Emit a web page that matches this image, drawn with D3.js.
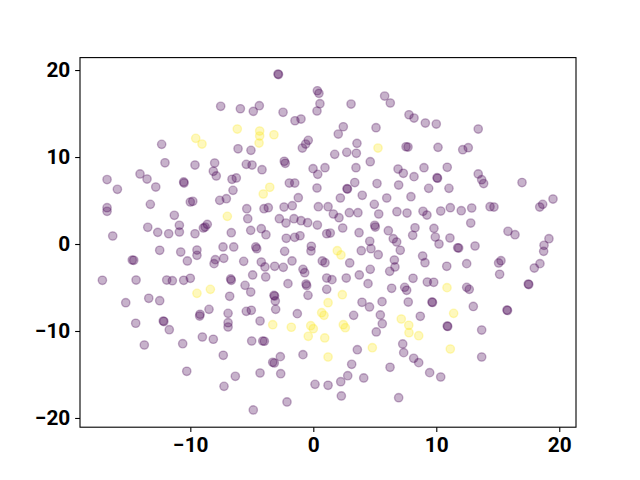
<!DOCTYPE html>
<html lang="en">
<head>
  <meta charset="UTF-8">
  <title>Scatter</title>
  <script src="https://d3js.org/d3.v7.min.js"></script>
  <style>
    body { margin: 0; background: #fff; }
    svg { display: block; }
    .tick text { font-family: Roboto, sans-serif; font-weight: bold; font-size: 20.8px; fill: #000; }
  </style>
</head>
<body>
  <div id="chart"></div>
  <script>
    // point coordinates and class labels (0 = purple, 1 = yellow)
    const xs = [
      -12.33, -12.06, -9.62, -14.09, -13.52, -16.77, -10.54, -10.51, -9.56, -9.05,
      -2.87, -2.83, 0.33, 0.46, 0.54, 0.30, -7.53, -5.93, -4.88, -4.39,
      -2.46, -1.49, -1.00, -6.18, -4.36, -4.36, -4.41, -3.20, -6.12, -5.07,
      -0.41, -0.62, -0.89, -8.02, -8.13, -7.89, -5.45, -4.98, -4.17, -2.36,
      -2.28, -0.02, 0.95, 0.36, -6.61, -6.26, -1.95, -1.51, 3.07, 5.80,
      6.26, 7.78, 8.19, 9.11, 10.00, 2.44, 2.03, 5.10, 3.55, 5.26,
      7.54, 7.70, 10.14, 1.74, 2.72, 3.50, 4.63, 3.47, 6.89, 7.32,
      9.00, 10.89, 8.19, 10.06, 10.10, 3.37, 5.18, 6.94, 13.41, 12.15,
      12.60, 13.41, 13.69, 13.85, 16.97,
      -15.93, -12.81, -16.77, -16.77, -13.25, -10.00, -9.80, -11.30, -13.46, -12.65,
      -11.76, -10.89, -10.89, -9.62, -8.94, -16.31, -12.49, -10.78, -10.24, -9.46,
      -9.46, -14.72, -14.60, -17.15, -14.41, -11.92, -11.46, -10.54, -10.00, -9.46,
      -15.25, -13.38, -12.49, -6.53, -3.54, -4.07, 0.30, -1.22, -7.61, -7.07,
      -6.99, -5.41, -4.01, -3.66, -2.38, -1.71, 0.41, 1.20, -5.33, -2.76,
      -2.22, -1.57, -1.00, -0.46, 0.33, -8.62, -8.80, -6.67, -5.09, -4.23,
      -3.85, -2.20, -1.51, -1.08, 1.09, -7.34, -6.47, -4.68, -4.60, -2.33,
      -0.16, -0.19, -7.97, -8.07, -7.28, -5.66, -4.23, -3.93, -3.14, -2.44,
      -1.73, -0.84, -0.70, 0.73, 0.95, -4.93, -3.87, -6.72, -6.67, 1.09,
      -0.54, -0.59, -2.06, -5.55, -5.09, 1.09, -8.37, -6.80, -3.20, -3.09,
      -3.15, -0.43, 1.20, 2.74, 2.78, 9.38, 11.03, 2.20, 3.98, 5.97,
      7.94, 1.63, 2.09, 2.93, 3.63, 5.32, 4.96, 6.80, 7.62, 8.92,
      9.24, 10.36, 11.14, 4.99, 5.04, 2.39, 1.38, 3.72, 6.10, 8.27,
      8.08, 9.81, 9.92, 10.22, 11.11, 4.59, 6.50, 6.78, 7.07, 3.90,
      4.69, 5.28, 1.95, 2.25, 8.89, 9.08, 2.96, 6.59, 6.64, 6.21,
      10.85, 4.63, 3.74, 2.68, 1.52, 8.11, 4.45, 9.27, 9.79, 10.87,
      6.37, 7.43, 7.59, 2.36, 3.96, 5.59, 7.72, 9.65, 9.69, 12.03,
      12.88, 14.37, 14.69, 18.41, 18.65, 19.49, 12.80, 11.74, 11.82, 13.15,
      15.83, 16.40, 19.16, 18.76, 18.73, 12.47, 15.07, 15.26, 15.15, 17.97,
      18.43, 17.48, 17.52, 12.47, 12.68, 13.01,
      -14.44, -12.20, -12.15, -11.71, -9.21, -9.24, -13.74, -10.62, -9.02, -10.29,
      -8.48, -6.93, -5.45, -5.04, -3.06, -1.30, 0.68, 0.87, -6.93, -6.93,
      -4.33, -3.30, -1.79, -0.21, 0.00, -0.41, 0.93, -8.13, -5.01, -4.11,
      -3.98, -7.32, -2.68, -3.30, -3.17, -0.84, 1.20, -6.34, -4.33, -2.65,
      -7.26, 0.14, 1.20, -2.14, -4.88, 3.28, 4.57, 5.45, 5.61, 2.44,
      2.60, 5.12, 7.15, 7.76, 7.78, 8.57, 8.70, 10.89, 10.93, 3.58,
      4.80, 7.27, 7.35, 8.16, 8.57, 11.14, 3.12, 2.80, 2.23, 4.10,
      6.24, 9.46, 10.36, 2.28, 6.94, 11.41, 15.75, 15.79, 13.69, 13.69
    ];
    const ys = [
      11.46, 9.34, 9.08, 8.05, 7.47, 7.41, 7.13, 7.01, 12.15, 11.49,
      19.54, 19.48, 17.62, 17.32, 16.13, 15.29, 15.83, 15.55, 15.25, 15.90,
      15.14, 14.17, 14.37, 13.22, 12.99, 12.41, 11.61, 12.56, 10.95, 10.77,
      11.92, 11.49, 11.03, 9.31, 8.36, 7.82, 9.16, 9.08, 8.54, 9.51,
      9.28, 8.66, 8.77, 8.01, 7.44, 7.59, 7.01, 7.01, 16.09, 17.01,
      16.21, 14.86, 14.48, 13.91, 13.79, 13.48, 12.64, 13.37, 11.57, 11.03,
      11.18, 11.15, 11.11, 10.31, 10.54, 10.43, 9.46, 8.77, 8.62, 8.13,
      8.77, 8.82, 7.74, 7.62, 7.56, 7.07, 6.95, 6.78, 13.22, 10.84,
      11.07, 8.05, 7.39, 6.95, 7.07,
      6.29, 6.55, 4.17, 3.76, 4.56, 4.83, 4.91, 3.30, 1.92, 1.34,
      1.18, 2.15, 1.38, 1.18, 1.84, 0.92, -0.72, -0.92, -1.95, -0.69,
      -1.30, -1.84, -1.87, -4.17, -4.14, -4.14, -4.22, -4.17, -3.94, -5.67,
      -6.75, -6.24, -6.52, 6.17, 6.52, 5.75, 6.44, 5.32, 5.02, 5.21,
      3.18, 4.06, 4.06, 4.17, 4.25, 4.40, 4.29, 4.29, 2.91, 2.91,
      2.41, 2.91, 2.68, 2.45, 2.18, 2.26, 1.95, 1.30, 1.57, 1.76,
      1.07, 0.66, 0.77, 0.95, 1.18, -0.34, -0.34, -0.34, -0.54, -0.84,
      -0.26, -0.80, -1.80, -2.26, -1.64, -1.99, -2.07, -2.64, -2.56, -2.68,
      -1.95, -2.91, -3.30, -1.95, -2.15, -3.56, -3.79, -4.02, -4.17, -3.91,
      -4.79, -4.60, -4.56, -4.75, -5.52, -5.21, -5.21, -6.01, -5.90, -6.55,
      -5.98, -5.90, -6.75, 6.36, 6.32, 6.40, 6.40, 5.29, 5.60, 5.29,
      5.44, 3.45, 3.02, 3.60, 3.60, 3.45, 4.56, 3.71, 3.56, 3.76,
      3.33, 3.79, 4.17, 2.15, 1.95, 1.84, 1.26, 1.30, 1.53, 1.87,
      1.00, 1.80, 0.80, 0.00, 0.69, 0.31, 0.61, 0.23, -0.72, -0.77,
      -0.54, -1.23, -0.77, -1.26, -1.38, -2.15, -2.18, -1.84, -2.64, -3.14,
      -2.56, -2.91, -3.56, -3.91, -4.10, -3.94, -4.56, -4.37, -4.40, -5.02,
      -5.09, -4.98, -5.32, -5.83, -6.70, -6.63, -6.67, -6.67, -6.72, 3.83,
      4.14, 4.29, 4.25, 4.25, 4.56, 5.17, 2.41, -0.43, -0.46, -0.23,
      1.46, 1.07, 0.61, -0.15, -0.84, -2.26, -2.18, -1.92, -3.48, -2.76,
      -2.26, -4.60, -4.66, -4.98, -5.21, -7.18,
      -9.11, -8.85, -8.91, -9.85, -8.08, -8.28, -11.61, -11.46, -10.69, -14.63,
      -7.51, -7.97, -7.74, -7.62, -7.51, -8.01, -7.90, -8.20, -9.05, -9.54,
      -8.85, -9.28, -9.57, -9.39, -9.74, -10.61, -10.80, -10.95, -11.15, -11.15,
      -11.18, -12.79, -12.95, -13.60, -13.68, -12.72, -12.99, -15.21, -14.83, -14.91,
      -16.36, -16.13, -16.24, -18.16, -19.08, -8.20, -7.24, -8.16, -9.16, -9.28,
      -9.62, -10.11, -8.62, -9.34, -10.20, -10.54, -8.31, -9.43, -9.48, -12.15,
      -11.92, -11.49, -12.49, -13.14, -13.64, -12.07, -13.83, -15.14, -15.83, -15.40,
      -14.17, -14.79, -15.29, -17.47, -17.67, -7.97, -7.59, -7.64, -9.89, -12.99
    ];
    const labels = [
      0, 0, 0, 0, 0, 0, 0, 0, 1, 1,
      0, 0, 0, 0, 0, 0, 0, 0, 0, 0,
      0, 0, 0, 1, 1, 1, 1, 1, 0, 0,
      0, 0, 0, 0, 0, 0, 0, 0, 0, 0,
      0, 0, 0, 0, 0, 0, 0, 0, 0, 0,
      0, 0, 0, 0, 0, 0, 0, 0, 0, 1,
      0, 0, 0, 0, 0, 0, 0, 0, 0, 0,
      0, 0, 0, 0, 0, 0, 0, 0, 0, 0,
      0, 0, 0, 0, 0,
      0, 0, 0, 0, 0, 0, 0, 0, 0, 0,
      0, 0, 0, 0, 0, 0, 0, 0, 0, 0,
      0, 0, 0, 0, 0, 0, 0, 0, 0, 1,
      0, 0, 0, 0, 1, 1, 0, 0, 0, 0,
      1, 0, 0, 0, 0, 0, 0, 0, 0, 0,
      0, 0, 0, 0, 0, 0, 0, 0, 0, 0,
      0, 0, 0, 0, 0, 0, 0, 0, 0, 0,
      0, 0, 0, 0, 0, 0, 0, 0, 0, 0,
      0, 0, 0, 0, 0, 0, 0, 0, 0, 0,
      0, 0, 0, 0, 0, 0, 1, 0, 0, 0,
      0, 0, 1, 0, 0, 0, 0, 0, 0, 0,
      0, 0, 0, 0, 0, 0, 0, 0, 0, 0,
      0, 0, 0, 0, 0, 0, 0, 0, 0, 0,
      0, 0, 0, 0, 0, 0, 0, 0, 0, 0,
      0, 0, 1, 1, 0, 0, 0, 0, 0, 0,
      0, 0, 0, 0, 0, 0, 0, 0, 0, 1,
      0, 0, 0, 1, 0, 0, 0, 0, 0, 0,
      0, 0, 0, 0, 0, 0, 0, 0, 0, 0,
      0, 0, 0, 0, 0, 0, 0, 0, 0, 0,
      0, 0, 0, 0, 0, 0,
      0, 0, 0, 0, 0, 0, 0, 0, 0, 0,
      0, 0, 0, 0, 0, 0, 1, 1, 0, 0,
      0, 1, 1, 1, 1, 1, 1, 0, 0, 0,
      0, 0, 0, 0, 0, 0, 1, 0, 0, 0,
      0, 0, 0, 0, 0, 0, 0, 0, 0, 1,
      1, 0, 1, 1, 1, 1, 0, 0, 0, 0,
      1, 0, 0, 0, 0, 1, 0, 0, 0, 0,
      0, 0, 0, 0, 0, 1, 0, 0, 0, 0
    ];
    const xTicks = [-10, 0, 10, 20];
    const yTicks = [-20, -10, 0, 10, 20];

    const width = 640, height = 480;
    const margin = { left: 80, right: 64, top: 57.6, bottom: 52.8 };
    const colors = ["#440154", "#fde725"];

    const svg = d3.select("#chart").append("svg")
      .attr("width", width)
      .attr("height", height);

    const x = d3.scaleLinear()
      .domain([-18.97, 21.36])
      .range([margin.left, width - margin.right]);
    const y = d3.scaleLinear()
      .domain([-21.06, 21.43])
      .range([height - margin.bottom, margin.top]);

    const fmt = d => (d < 0 ? "\u2212" + Math.abs(d) : String(d));

    // points
    svg.append("g")
      .selectAll("circle")
      .data(xs.map((d, i) => ({ x: d, y: ys[i], c: labels[i] })))
      .enter()
      .append("circle")
      .attr("cx", d => x(d.x))
      .attr("cy", d => y(d.y))
      .attr("r", 4.17)
      .attr("fill", d => colors[d.c])
      .attr("fill-opacity", 0.3)
      .attr("stroke", d => colors[d.c])
      .attr("stroke-opacity", 0.3)
      .attr("stroke-width", 1.39);

    // frame
    svg.append("rect")
      .attr("x", margin.left)
      .attr("y", margin.top)
      .attr("width", width - margin.left - margin.right)
      .attr("height", height - margin.top - margin.bottom)
      .attr("fill", "none")
      .attr("stroke", "#000")
      .attr("stroke-width", 1.1);

    // axes
    const xAxis = svg.append("g")
      .attr("transform", `translate(0, ${height - margin.bottom})`)
      .call(d3.axisBottom(x).tickValues(xTicks).tickFormat(fmt).tickSize(4.86).tickPadding(4.86).tickSizeOuter(0));
    const yAxis = svg.append("g")
      .attr("transform", `translate(${margin.left}, 0)`)
      .call(d3.axisLeft(y).tickValues(yTicks).tickFormat(fmt).tickSize(4.86).tickPadding(4.86).tickSizeOuter(0));
    [xAxis, yAxis].forEach(g => {
      g.select(".domain").remove();
      g.selectAll(".tick line").attr("stroke", "#000").attr("stroke-width", 1.1);
    });
  </script>
</body>
</html>
